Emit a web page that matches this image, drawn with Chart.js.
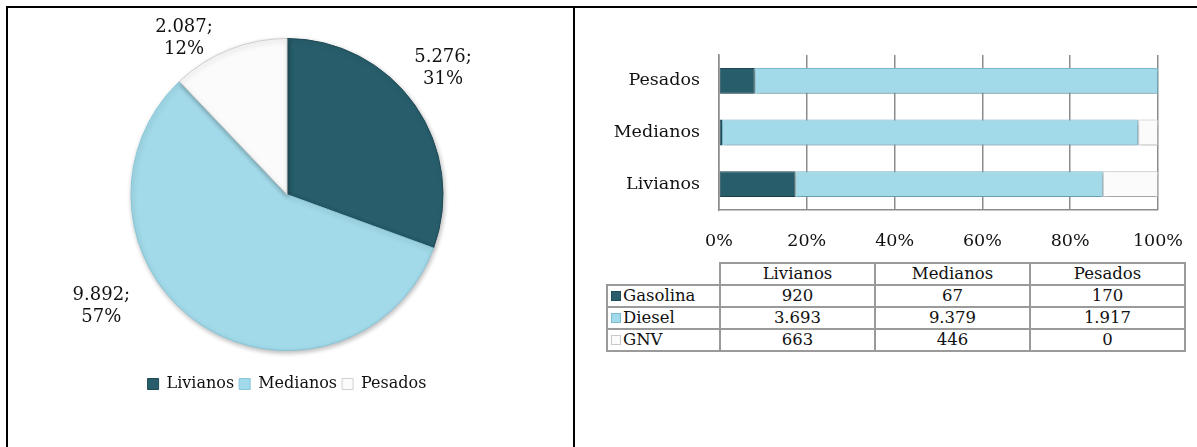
<!DOCTYPE html>
<html lang="es">
<head>
<meta charset="UTF-8">
<title>Vehículos por tipo y combustible</title>
<script src="https://cdn.jsdelivr.net/npm/chart.js"></script>
<style>
  body { margin: 0; background: #fff; font-family: "DejaVu Serif", serif; }
  #frame { position: relative; width: 1197px; height: 447px; overflow: hidden; }
  .rule { position: absolute; background: #000; }
  #pieBox { position: absolute; left: 8px; top: 8px; width: 565px; height: 439px; }
  #barBox { position: absolute; left: 577px; top: 8px; width: 627px; height: 245px; }
  #dataTable { position: absolute; left: 606px; top: 262px; border-collapse: collapse; font-size: 16.5px; color: #111; }
  #dataTable td { border: 2px solid #9a9a9a; height: 20px; padding: 0; line-height: 20px; text-align: center; }
  #dataTable td.corner { border: none; }
  #dataTable td.rowHead { text-align: left; padding-left: 3px; width: 108px; }
  #dataTable td.val { width: 153px; }
  .key { display: inline-block; width: 10px; height: 10px; margin-right: 2px; box-sizing: border-box; border: 1px solid; vertical-align: 0px; }
</style>
</head>
<body>
<div id="frame">
  <div class="rule" style="left:6px; top:6px; width:1191px; height:2px;"></div>
  <div class="rule" style="left:6px; top:6px; width:2px; height:441px;"></div>
  <div class="rule" style="left:573px; top:6px; width:2px; height:441px;"></div>
  <div id="pieBox"><canvas id="pieChart"></canvas></div>
  <div id="barBox"><canvas id="barChart"></canvas></div>
  <table id="dataTable"></table>
</div>

<script>
// categories and values
const categories = ['Livianos', 'Medianos', 'Pesados'];
const fuels = ['Gasolina', 'Diesel', 'GNV'];
const gasolina = [920, 67, 170];
const diesel = [3693, 9379, 1917];
const gnv = [663, 446, 0];
const pieTotals = [5276, 9892, 2087];
const xTicks = ['0%', '20%', '40%', '60%', '80%', '100%'];

const dark = '#285e6c', light = '#a2dae9', pale = '#fbfbfb';
const fontFamily = '"DejaVu Serif", serif';

function fmt(v) {
    return String(v).replace(/\B(?=(\d{3})+(?!\d))/g, '.');
}

// soft shadow so the white slice / bars stand out a bit
const shadowPlugin = {
    id: 'shadow',
    beforeDatasetsDraw(chart) {
        const ctx = chart.ctx;
        ctx.save();
        ctx.shadowColor = 'rgba(0,0,0,0.28)';
        ctx.shadowBlur = 5;
        ctx.shadowOffsetX = 1;
        ctx.shadowOffsetY = 2;
    },
    afterDatasetsDraw(chart) {
        chart.ctx.restore();
    }
};

// pie labels "value;\npercent" placed outside the slices
const labelSpots = [[1.0, -0.81], [-1.19, 0.72], [-0.66, -1.0]];
const pieLabels = {
    id: 'pieLabels',
    afterDraw(chart) {
        const ctx = chart.ctx;
        const meta = chart.getDatasetMeta(0);
        const total = pieTotals.reduce((a, b) => a + b, 0);
        ctx.save();
        ctx.font = '18px ' + fontFamily;
        ctx.fillStyle = '#111';
        ctx.textAlign = 'center';
        ctx.textBaseline = 'middle';
        meta.data.forEach((arc, i) => {
            const r = arc.outerRadius;
            const x = arc.x + labelSpots[i][0] * r;
            const y = arc.y + labelSpots[i][1] * r;
            const pct = Math.round(pieTotals[i] / total * 100) + '%';
            ctx.fillText(fmt(pieTotals[i]) + ';', x, y - 11);
            ctx.fillText(pct, x, y + 11);
        });
        ctx.restore();
    }
};

new Chart(document.getElementById('pieChart'), {
    type: 'pie',
    data: {
        labels: categories,
        datasets: [{
            data: pieTotals,
            backgroundColor: [dark, light, pale],
            borderColor: ['#1f4a56', '#86c6d8', '#cfcfcf'],
            borderWidth: 1,
            radius: 156
        }]
    },
    options: {
        responsive: true,
        maintainAspectRatio: false,
        animation: false,
        layout: { padding: { top: 10, bottom: 45, left: 0, right: 7 } },
        plugins: {
            tooltip: { enabled: false },
            legend: {
                position: 'bottom',
                labels: {
                    font: { family: fontFamily, size: 16 },
                    color: '#111',
                    boxWidth: 11,
                    boxHeight: 11,
                    padding: 5
                }
            }
        }
    },
    plugins: [shadowPlugin, pieLabels]
});

// 100% stacked bars
function share(arr, i) {
    const t = gasolina[i] + diesel[i] + gnv[i];
    return arr[i] / t * 100;
}
const seriesRaw = [gasolina, diesel, gnv];
const fills = [dark, light, pale];
const edges = ['#1f4a56', '#7dbfd1', '#c9c9c9'];

new Chart(document.getElementById('barChart'), {
    type: 'bar',
    data: {
        labels: categories,
        datasets: fuels.map((f, k) => ({
            label: f,
            data: categories.map((c, i) => share(seriesRaw[k], i)),
            backgroundColor: fills[k],
            borderColor: edges[k],
            borderWidth: 1,
            borderSkipped: false,
            barPercentage: 0.5,
            categoryPercentage: 1.0
        }))
    },
    options: {
        indexAxis: 'y',
        responsive: true,
        maintainAspectRatio: false,
        animation: false,
        layout: { padding: { top: 47, right: 29, left: 0, bottom: 0 } },
        plugins: { legend: { display: false }, tooltip: { enabled: false } },
        scales: {
            x: {
                stacked: true,
                min: 0,
                max: 100,
                ticks: {
                    stepSize: 20,
                    padding: 21,
                    color: '#111',
                    font: { family: fontFamily, size: 17.5 },
                    callback: (v, i) => xTicks[i]
                },
                grid: { color: '#8c8c8c', lineWidth: 1.5, drawTicks: false },
                border: { color: '#8c8c8c', width: 1.5 },
                afterFit(scale) { scale.height = 43; }
            },
            y: {
                stacked: true,
                reverse: true,
                ticks: {
                    padding: 19,
                    color: '#111',
                    font: { family: fontFamily, size: 17.5 }
                },
                grid: { display: false, drawTicks: false },
                border: { color: '#8c8c8c', width: 1.5 },
                afterFit(scale) { scale.width = 142; }
            }
        }
    },
    plugins: [shadowPlugin]
});

// data table under the bars
const table = document.getElementById('dataTable');
let html = '<tr><td class="corner"></td>' +
    categories.map(c => '<td class="val">' + c + '</td>').join('') + '</tr>';
fuels.forEach((f, k) => {
    html += '<tr><td class="rowHead"><span class="key" style="background:' + fills[k] +
        ';border-color:' + edges[k] + '"></span>' + f + '</td>' +
        seriesRaw[k].map(v => '<td class="val">' + fmt(v) + '</td>').join('') + '</tr>';
});
table.innerHTML = html;
</script>
</body>
</html>
